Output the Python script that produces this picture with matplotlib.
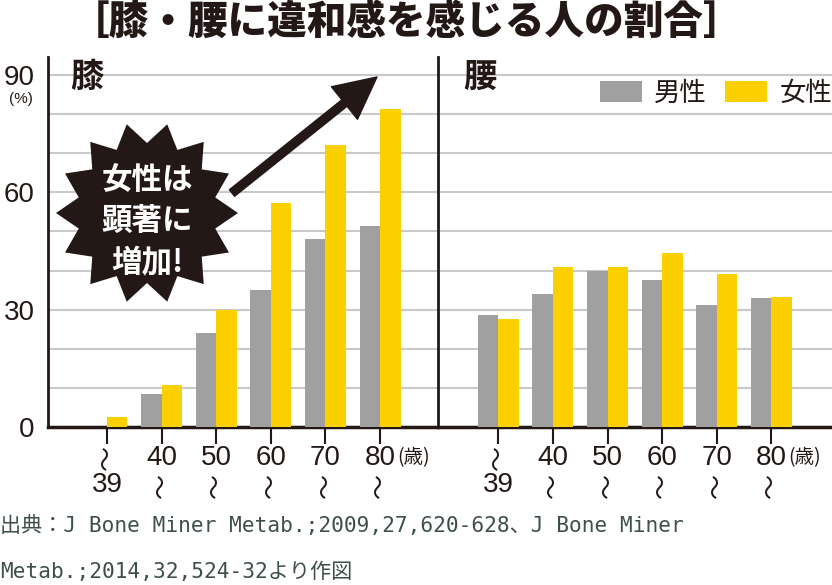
import matplotlib
matplotlib.use('Agg')
import numpy as np
import matplotlib.pyplot as plt
from matplotlib.patches import Polygon

plt.rcParams['font.family'] = ['Noto Sans CJK JP', 'DejaVu Sans']

# data (%)
age_nums = ['39', '40', '50', '60', '70', '80']
knee_male = [0, 8.5, 24.1, 35.0, 48.1, 51.5]
knee_female = [2.6, 10.8, 30.0, 57.3, 72.0, 81.2]
back_male = [28.6, 33.9, 40.0, 37.5, 31.3, 33.1]
back_female = [27.7, 41.0, 41.0, 44.6, 39.2, 33.3]
y_labels = [0, 30, 60, 90]

GRAY = '#a0a0a0'
YELLOW = '#fcd000'
INK = '#231815'
GRID = '#c9c9c9'
NUM_FONT = ['Liberation Sans', 'DejaVu Sans']

W, H = 832, 585
fig = plt.figure(figsize=(W / 100, H / 100), dpi=100)


def px_rect(x0, y0, x1, y1):
    # pixel box measured from the top-left corner -> figure fraction
    return [x0 / W, 1 - y1 / H, (x1 - x0) / W, (y1 - y0) / H]


ax1 = fig.add_axes(px_rect(48, 57, 438, 427))
ax2 = fig.add_axes(px_rect(438, 57, 832, 427))

x = np.arange(len(age_nums))
bw = 0.375
panels = [(ax1, knee_male, knee_female, '膝', (-1.08, 6.06), 0.1),
          (ax2, back_male, back_female, '腰', (-1.105, 6.11), 0.107)]
for ax, male, female, name, xl, name_x in panels:
    ax.bar(x - bw / 2, male, bw, color=GRAY, label='男性', zorder=3)
    ax.bar(x + bw / 2, female, bw, color=YELLOW, label='女性', zorder=3)
    ax.set_xlim(*xl)
    ax.set_ylim(0, 94.6)
    ax.set_yticks(y_labels)
    ax.set_yticks(np.arange(10, 91, 10), minor=True)
    ax.grid(True, axis='y', which='both', color=GRID, lw=1.5, zorder=0)
    ax.tick_params(axis='y', which='both', length=0, labelleft=False)
    ax.set_xticks(x)
    ax.set_xticklabels([])
    ax.tick_params(axis='x', length=12, width=1.5, color=INK)
    for s in ['top', 'right']:
        ax.spines[s].set_visible(False)
    ax.spines['left'].set_linewidth(2)
    ax.spines['left'].set_color(INK)
    ax.spines['bottom'].set_linewidth(2.5)
    ax.spines['bottom'].set_color(INK)
    ax.set_axisbelow(True)
    ax.text(name_x, 0.945, name, transform=ax.transAxes, ha='center',
            va='center', fontsize=24, fontweight='bold', color=INK)

    # two-row age labels: "〜39", "40〜", ...
    for i, num in enumerate(age_nums):
        num_row = -58 if i == 0 else -31
        wave_row = -31 if i == 0 else -58
        ax.annotate(num, xy=(x[i], 0), xycoords=('data', 'axes fraction'),
                    xytext=(0, num_row), textcoords='offset pixels',
                    ha='center', va='center', fontsize=20,
                    fontfamily=NUM_FONT, color=INK)
        ax.annotate('〜', xy=(x[i], 0), xycoords=('data', 'axes fraction'),
                    xytext=(0, wave_row), textcoords='offset pixels',
                    ha='center', va='center', fontsize=18, rotation=90,
                    color=INK)
    ax.annotate('(歳)', xy=(x[-1], 0), xycoords=('data', 'axes fraction'),
                xytext=(17, -31), textcoords='offset pixels',
                ha='left', va='center', fontsize=14, color=INK)

ax1.tick_params(axis='y', labelleft=True, pad=9.5, labelsize=20,
                labelcolor=INK)
for lab in ax1.get_yticklabels():
    lab.set_fontfamily(NUM_FONT)
fig.text(21 / W, 1 - 99 / H, '(%)', ha='center', va='center', fontsize=11,
         color=INK, fontfamily=NUM_FONT)

ax2.legend(loc='upper right', bbox_to_anchor=(1.0, 1 - 80 / H),
           bbox_transform=fig.transFigure, ncol=2, frameon=False,
           fontsize=19, handlelength=1.6, handleheight=0.85,
           handletextpad=0.45, columnspacing=0.7, borderaxespad=0,
           borderpad=0, labelcolor=INK)

# starburst callout
cx, cy, r_out, r_in, n = 147, 213, 91, 70, 14
ang = np.arange(2 * n) * np.pi / n
rad = np.where(np.arange(2 * n) % 2 == 0, r_out, r_in)
pts = np.column_stack([(cx + rad * np.cos(ang)) / W,
                       1 - (cy - rad * np.sin(ang)) / H])
fig.add_artist(Polygon(pts, closed=True, facecolor=INK, edgecolor='none',
                       transform=fig.transFigure, zorder=5))
fig.text(cx / W, 1 - 221 / H, '女性は\n顕著に\n増加!', ha='center', va='center',
         color='white', fontsize=22, fontweight='bold', linespacing=1.38,
         zorder=6)
ax1.annotate('', xy=(377, H - 77), xytext=(232, H - 193),
             xycoords='figure pixels', textcoords='figure pixels',
             annotation_clip=False,
             arrowprops=dict(arrowstyle='simple,head_length=1.0,head_width=1.0,tail_width=0.2',
                             mutation_scale=30, color=INK, shrinkA=0, shrinkB=0))

fig.text(407 / W, 1 - 22 / H, '［膝・腰に違和感を感じる人の割合］', ha='center',
         va='center', fontsize=28.5, fontweight='black', color=INK)

SRC = '#3e5046'
SRC_FONT = ['DejaVu Sans Mono', 'Noto Sans CJK JP']
fig.text(0, 1 - 525 / H, '出典：J Bone Miner Metab.;2009,27,620-628、J Bone Miner',
         ha='left', va='center', fontsize=15.2, color=SRC, fontfamily=SRC_FONT)
fig.text(0, 1 - 572 / H, 'Metab.;2014,32,524-32より作図',
         ha='left', va='center', fontsize=15.2, color=SRC, fontfamily=SRC_FONT)

fig.savefig('out.png', dpi=100)
